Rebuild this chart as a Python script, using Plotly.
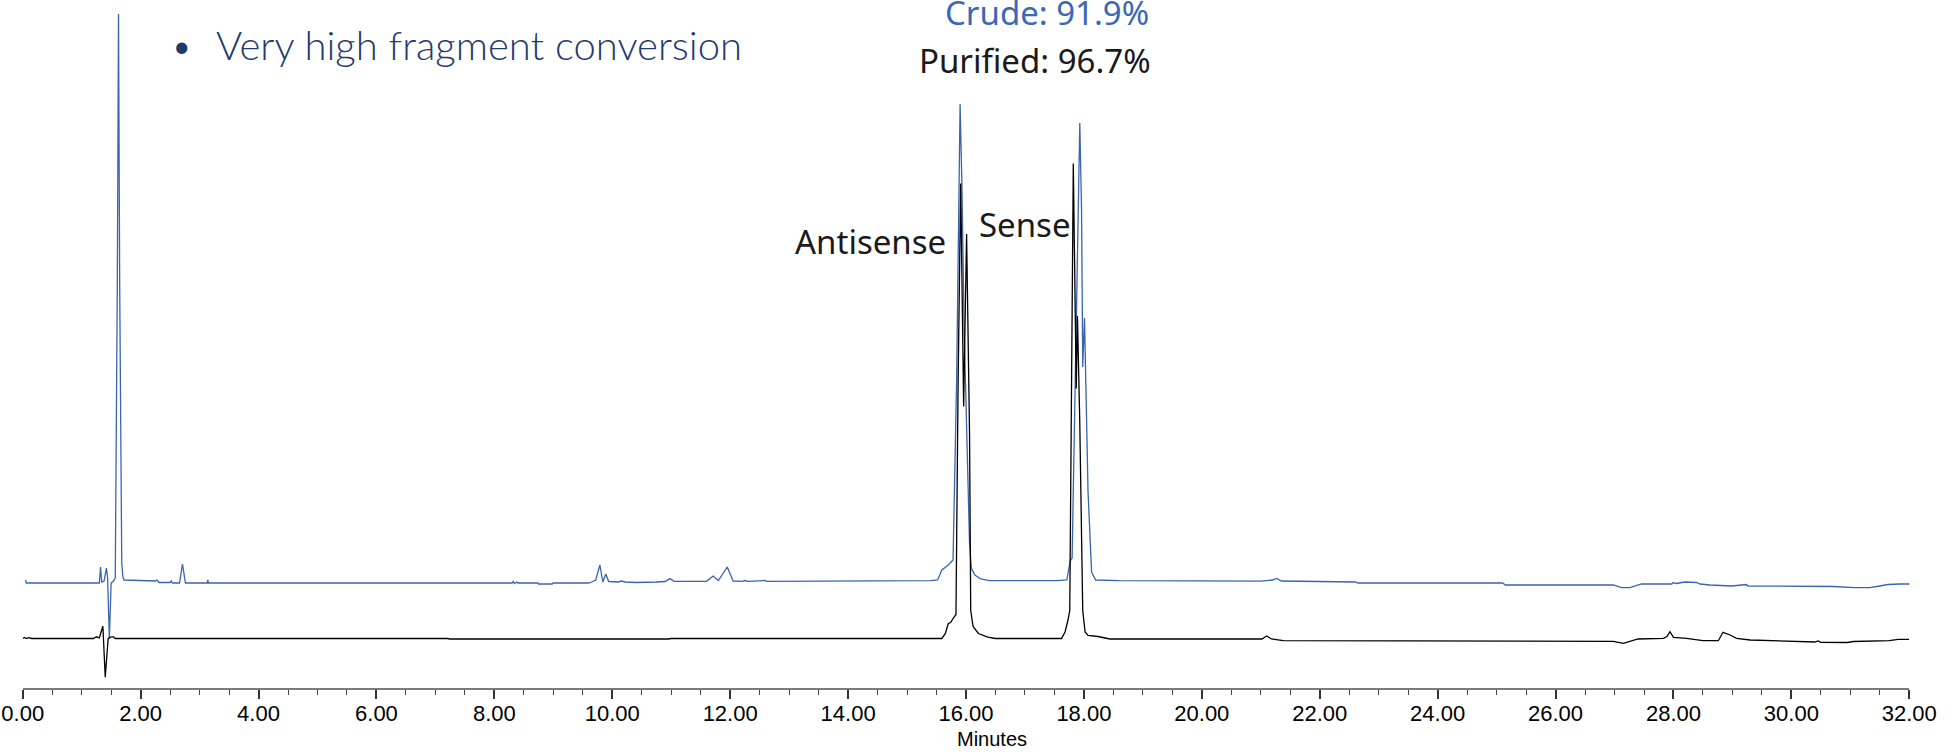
import plotly.graph_objects as go

# ---------------- data (retention time in minutes, signal above each baseline) ----------------
purified_time = [0.00, 0.03, 0.06, 0.10, 0.15, 1.20, 1.25, 1.30, 1.36, 1.40, 1.45, 1.50, 1.54, 1.57,
                 7.20, 7.25, 10.95, 11.00, 15.59, 15.65, 15.70, 15.74, 15.78, 15.83, 15.865, 15.91,
                 15.96, 16.01, 16.06, 16.08, 16.12, 16.21, 16.37, 16.50, 17.62, 17.68, 17.73, 17.76,
                 17.82, 17.87, 17.89, 17.93, 17.98, 18.02, 18.07, 18.24, 18.44, 21.02, 21.10, 21.18,
                 21.38, 22.80, 25.06, 26.98, 27.15, 27.37, 27.40, 27.83, 27.89, 27.94, 28.00, 28.22,
                 28.50, 28.76, 28.84, 28.96, 29.07, 29.30, 29.58, 30.15, 30.40, 30.45, 30.50, 30.95,
                 31.05, 31.66, 31.81, 32.00]
purified_signal = [0, 1, 0, 0.8, 0, 0, 1.7, 0.7, 12.3, -38.7, 0, 1.7, 1.7, 0,
                   0, -0.5, -0.5, 0, 0, 5, 15, 16, 20, 24, 250, 455,
                   232, 404.5, 205, 28, 12, 5, 1.3, 0, 0, 6.5, 18.5, 28,
                   475, 250, 322.5, 215, 28, 6.5, 3, 2, -0.5, -0.5, 2.5, -0.5,
                   -2.2, -2.2, -2.8, -2.8, -4.8, -1.5, -0.5, 0.2, 2, 6.8, 1.2, 0.2,
                   -2.2, -2.2, 6.2, 3.5, 0.2, -1.5, -2.2, -3, -3.5, -2.5, -3.8, -4,
                   -3, -2.2, -0.8, -0.8]

crude_time = [0.05, 0.06, 1.30, 1.32, 1.34, 1.38, 1.42, 1.44, 1.47, 1.50, 1.54, 1.57, 1.605, 1.625,
              1.645, 1.68, 1.70, 1.72, 2.25, 2.28, 2.31, 2.50, 2.52, 2.54, 2.66, 2.71, 2.76, 3.13,
              3.14, 3.15, 8.30, 8.32, 8.34, 8.38, 8.40, 8.74, 8.75, 8.98, 9.00, 9.60, 9.65, 9.72,
              9.79, 9.84, 9.89, 9.94, 10.10, 10.16, 10.22, 10.40, 10.75, 10.90, 10.98, 11.05, 11.60,
              11.71, 11.80, 11.95, 12.05, 12.20, 12.25, 12.30, 12.59, 12.62, 15.40, 15.52, 15.59,
              15.70, 15.78, 15.84, 15.90, 15.93, 15.97, 16.02, 16.06, 16.09, 16.15, 16.25, 16.40,
              17.54, 17.71, 17.74, 17.77, 17.80, 17.93, 17.96, 17.98, 18.01, 18.07, 18.13, 18.20,
              18.60, 21.00, 21.20, 21.27, 21.35, 22.60, 22.65, 25.10, 25.15, 26.98, 27.12, 27.26,
              27.46, 27.97, 27.99, 28.05, 28.19, 28.39, 28.45, 28.62, 28.99, 29.24, 29.26, 30.20,
              30.43, 30.71, 31.08, 31.33, 31.50, 31.64, 31.84, 32.06]
crude_signal = [3, 0, 0, 16, 1, 2, 15, 5, -56, 0, 2, 5, 300, 569,
                300, 20, 6, 3, 2, 3, 0.5, 0.5, 2, 0, 0, 19, 0, 0,
                3, 0, 0, 1.5, -0.5, 1, 0, 0, -1, -1, 0, 0, 1, 3,
                18, 1, 9, 1.5, 1, 2, 1, 0.5, 1, 1.5, 4.4, 1.7, 1.7,
                7, 2.5, 16, 2, 1.7, 2.5, 1.7, 2.5, 1.7, 2.3, 3, 13,
                18, 23, 200, 479, 400, 250, 120, 40, 15, 8, 4, 2.3,
                2.3, 3, 13, 22.4, 25, 460, 374, 216, 265, 91, 11, 3,
                2.3, 1.8, 3, 4.5, 2, 1, 0, 0, -2, -2, -4.7, -4.7,
                -1, -1, 0.3, -0.5, 1, 0.5, -1, -2, -3, -1.5, -3, -3,
                -3.5, -3.5, -4.7, -4.7, -3, -1.5, -1, -1]

tick_values = [0, 2, 4, 6, 8, 10, 12, 14, 16, 18, 20, 22, 24, 26, 28, 30, 32]
tick_labels = ["0.00", "2.00", "4.00", "6.00", "8.00", "10.00", "12.00", "14.00", "16.00",
               "18.00", "20.00", "22.00", "24.00", "26.00", "28.00", "30.00", "32.00"]

# ---------------- layout constants ----------------
W, H = 1949, 752
CRUDE_OFFSET = 105.0      # vertical stacking offsets of the two traces
PURIFIED_OFFSET = 49.5
BLUE = "#3A64B0"

fig = go.Figure()
fig.add_trace(go.Scatter(x=crude_time, y=[v + CRUDE_OFFSET for v in crude_signal],
                         mode="lines", line=dict(color=BLUE, width=1.3), name="Crude",
                         showlegend=False))
fig.add_trace(go.Scatter(x=purified_time, y=[v + PURIFIED_OFFSET for v in purified_signal],
                         mode="lines", line=dict(color="#000000", width=1.3), name="Purified",
                         showlegend=False))


def px(x):
    return x / W


def py(y):
    return 1 - y / H


ann = []
lbl_font = dict(family="Noto Sans, Open Sans, sans-serif", size=33)
ann.append(dict(text="Crude: 91.9%", x=px(1151), y=py(13), xanchor="right", yanchor="middle",
                font=dict(lbl_font, color="#3B68B4")))
ann.append(dict(text="Purified: 96.7%", x=px(1153), y=py(60.5), xanchor="right", yanchor="middle",
                font=dict(lbl_font, color="#1A1A1A")))
ann.append(dict(text="Antisense", x=px(948), y=py(242), xanchor="right", yanchor="middle",
                font=dict(lbl_font, color="#1A1A1A")))
ann.append(dict(text="Sense", x=px(1025), y=py(224.5), xanchor="center", yanchor="middle",
                font=dict(lbl_font, color="#1A1A1A")))
ann.append(dict(text="•", x=px(181), y=py(45), xanchor="center", yanchor="middle",
                font=dict(family="Lato, sans-serif", size=30, color="#1F3A6E")))
ann.append(dict(text="Very high fragment conversion", x=px(214), y=py(45), xanchor="left",
                yanchor="middle",
                font=dict(family="Lato, sans-serif", size=40, color="#1F3A6E", weight=300)))
ann.append(dict(text="Minutes", x=px(992), y=py(739), xanchor="center", yanchor="middle",
                font=dict(family="Liberation Sans, Arial, sans-serif", size=20, color="#000000")))
for a in ann:
    a.update(xref="paper", yref="paper", showarrow=False)

fig.update_layout(
    width=W, height=H,
    margin=dict(l=0, r=0, t=0, b=0),
    paper_bgcolor="white", plot_bgcolor="white",
    showlegend=False,
    annotations=ann,
    xaxis=dict(
        domain=[22.7 / W, 1909.3 / W], range=[0, 32], automargin=False,
        tickmode="array", tickvals=tick_values, ticktext=tick_labels,
        ticks="outside", ticklen=9, tickwidth=1.5, tickcolor="#333333",
        ticklabelstandoff=-4,
        minor=dict(dtick=0.5, tick0=0, ticks="outside", ticklen=5, tickwidth=1.2,
                   tickcolor="#444444", showgrid=False),
        showline=True, linecolor="#7a7a7a", linewidth=2,
        showgrid=False, zeroline=False,
        tickfont=dict(family="Liberation Sans, Arial, sans-serif", size=22, color="#000000"),
    ),
    yaxis=dict(
        domain=[(H - 688) / H, 1], range=[0, 688], automargin=False,
        visible=False, showgrid=False, zeroline=False,
    ),
)

fig.write_html("out.html")
